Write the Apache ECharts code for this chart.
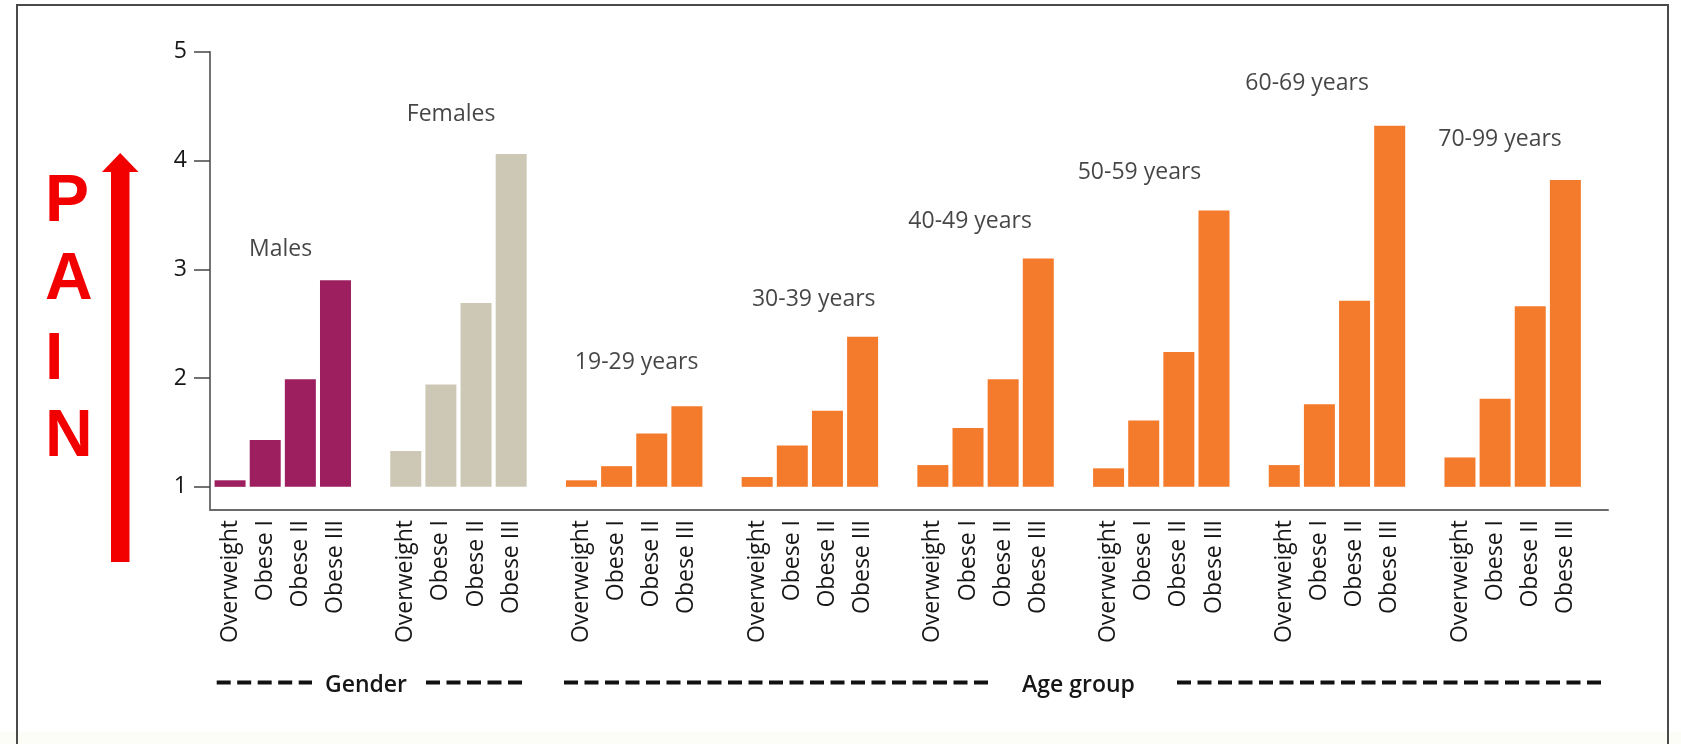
<!DOCTYPE html>
<html>
<head>
<meta charset="utf-8">
<script src="https://cdn.jsdelivr.net/npm/echarts@6/dist/echarts.min.js"></script>
<style>
html,body{margin:0;padding:0;background:#fff;}
#chart{width:1681px;height:744px;}
</style>
</head>
<body>
<div id="chart"></div>
<script>
// ---- data ----
const groupNames = ['Males', 'Females', '19-29 years', '30-39 years', '40-49 years', '50-59 years', '60-69 years', '70-99 years'];
const bmiClasses = ['Overweight', 'Obese I', 'Obese II', 'Obese III'];
const males   = [1.06, 1.43, 1.99, 2.90];
const females = [1.33, 1.94, 2.69, 4.06];
const age1929 = [1.06, 1.19, 1.49, 1.74];
const age3039 = [1.09, 1.38, 1.70, 2.38];
const age4049 = [1.20, 1.54, 1.99, 3.10];
const age5059 = [1.17, 1.61, 2.24, 3.54];
const age6069 = [1.20, 1.76, 2.71, 4.32];
const age7099 = [1.27, 1.81, 2.66, 3.82];
const yTicks = [1, 2, 3, 4, 5];
// group label anchor (slot units, value units)
const groupLabelX = [1.94, 6.79, 12.07, 17.11, 21.56, 26.38, 31.15, 36.64];
const groupLabelY = [3.18, 4.42, 2.14, 2.72, 3.44, 3.89, 4.71, 4.19];

const groupValues = [males, females, age1929, age3039, age4049, age5059, age6069, age7099];
const colMale = '#9d1f5f', colFemale = '#cdc8b6', colAge = '#f47b2c';
const groupColors = [colMale, colFemale, colAge, colAge, colAge, colAge, colAge, colAge];

const BASE = 1;
const categories = [], baseData = [], barData = [];
groupValues.forEach((vals, g) => {
  vals.forEach((v, i) => {
    categories.push(bmiClasses[i]);
    baseData.push(BASE);
    barData.push({ value: +(v - BASE).toFixed(3), itemStyle: { color: groupColors[g] } });
  });
  if (g < groupValues.length - 1) {
    categories.push('');
    baseData.push('-');
    barData.push('-');
  }
});
const nSlots = categories.length;

const FONT = '"Open Sans", "Noto Sans", sans-serif';
const TXT = '#161616';
const gTop = 51.7, gBottom = 234;
const yMin = 0.787, yMax = 5;

const chart = echarts.init(document.getElementById('chart'), null, { renderer: 'canvas' });

const graphics = [
  { type: 'rect', silent: true, z: -10, shape: { x: 0, y: 732, width: 1681, height: 12 }, style: { fill: '#fdfdf7' } },
  { type: 'rect', silent: true, z: 0, shape: { x: 17, y: 5, width: 1651, height: 760 }, style: { fill: 'none', stroke: '#4a4a4a', lineWidth: 2 } },
  // PAIN arrow
  { type: 'polygon', silent: true, shape: { points: [[120.2, 153], [138.5, 172], [129.5, 172], [129.5, 562], [111, 562], [111, 172], [102, 172]] }, style: { fill: '#f20000' } }
];
['P', 'A', 'I', 'N'].forEach((ch, i) => {
  graphics.push({ type: 'text', silent: true, style: { text: ch, x: 45, y: [203, 281, 361, 438][i], font: 'bold 66px "Liberation Sans", Arial, sans-serif', fill: '#f20000', align: 'left', verticalAlign: 'middle', textAlign: 'left', textVerticalAlign: 'middle' } });
});
// bottom grouping lines
const dashY = 682.5;
[[216.7, 312], [426, 522], [564, 992], [1177, 1605]].forEach(seg => {
  graphics.push({ type: 'line', silent: true, shape: { x1: seg[0], y1: dashY, x2: seg[1], y2: dashY }, style: { stroke: '#111', lineWidth: 4, lineDash: [14, 6.5] } });
});
[['Gender', 366], ['Age group', 1078.5]].forEach(t => {
  graphics.push({ type: 'text', silent: true, style: { text: t[0], x: t[1], y: 685, font: '600 23px ' + FONT, fill: TXT, align: 'center', verticalAlign: 'middle', textAlign: 'center', textVerticalAlign: 'middle' } });
});

chart.setOption({
  animation: false,
  backgroundColor: '#ffffff',
  grid: [
    { left: 212.5, right: 1681 - (212.5 + nSlots * 35.14), top: gTop, bottom: gBottom },
    { left: 210, right: 73, top: gTop, bottom: gBottom }
  ],
  xAxis: [
    {
      type: 'category', gridIndex: 0, data: categories,
      axisLine: { show: false }, axisTick: { show: false },
      axisLabel: { interval: 0, rotate: 90, margin: 10, color: TXT, fontFamily: FONT, fontSize: 23, fontWeight: 500 }
    },
    {
      type: 'value', gridIndex: 1, min: 0, max: 1,
      axisLine: { show: true, lineStyle: { color: '#6a6a6a', width: 2 } },
      axisTick: { show: false }, axisLabel: { show: false }, splitLine: { show: false }
    },
    {
      type: 'value', gridIndex: 0, min: 0, max: nSlots, show: false
    }
  ],
  yAxis: [
    { type: 'value', gridIndex: 0, min: yMin, max: yMax, show: false },
    {
      type: 'value', gridIndex: 1, min: yMin, max: yMax,
      axisLine: { show: true, lineStyle: { color: '#444', width: 1.5 } },
      axisTick: { show: true, length: 16, customValues: yTicks, lineStyle: { color: '#444', width: 1.5 } },
      axisLabel: { customValues: yTicks, margin: 23, color: TXT, fontFamily: FONT, fontSize: 23, fontWeight: 500 },
      splitLine: { show: false }
    }
  ],
  series: [
    {
      type: 'bar', name: 'base', xAxisIndex: 0, yAxisIndex: 0, stack: 'pain', silent: true,
      data: baseData, barWidth: 31, itemStyle: { color: 'rgba(0,0,0,0)' }
    },
    {
      type: 'bar', name: 'pain', xAxisIndex: 0, yAxisIndex: 0, stack: 'pain',
      data: barData, barWidth: 31
    },
    {
      type: 'scatter', xAxisIndex: 2, yAxisIndex: 0, symbolSize: 1, silent: true,
      itemStyle: { color: 'rgba(0,0,0,0)' },
      label: { show: true, position: 'inside', formatter: p => p.name, color: TXT, fontFamily: FONT, fontSize: 23, fontWeight: 500 },
      data: groupNames.map((n, i) => ({ name: n, value: [groupLabelX[i], groupLabelY[i]] }))
    }
  ],
  graphic: graphics
});
</script>
</body>
</html>
